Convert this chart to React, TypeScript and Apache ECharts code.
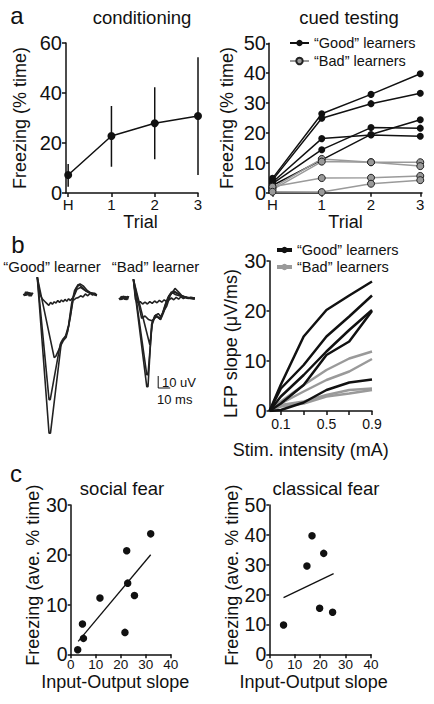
import React, { useEffect, useRef } from "react";
import * as echarts from "echarts";

const FONT = '"Liberation Sans", Arial, Helvetica, sans-serif';
const INK = "#111";
const GREY = "#9a9a9a";

// ---- panel a: conditioning ----
const trialX = [0, 1, 2, 3];
const trialLabels = ["H", "1", "2", "3"];
const condMean = [7.2, 22.8, 27.9, 30.8];
const condLow = [2.5, 10.5, 13.5, 7.2];
const condHigh = [11.6, 34.8, 42.3, 54.3];

// ---- panel a: cued testing ----
const goodCued = [
  [4.8, 26.4, 32.9, 39.8],
  [4.2, 24.9, 29.8, 33.3],
  [3.5, 18.1, 19.3, 18.9],
  [3.0, 14.4, 21.8, 21.6],
  [2.4, 11.0, 19.5, 24.4],
];
const badCued = [
  [1.6, 11.3, 10.2, 10.2],
  [1.0, 10.4, 10.2, 8.9],
  [2.0, 4.9, 5.0, 5.6],
  [0.3, 0.2, 3.0, 4.2],
];

// ---- panel b: example traces (ms, uV) ----
const goodPre = [[3.5, 0.5], [4.5, -1], [5.5, 1.5], [6.5, -0.5], [7.5, 1], [8.5, -1.5], [9.5, 0.5], [10, -0.5]];
const goodTraces = [
  [[14.4, 14], [16.5, 0], [18.5, -4], [20.5, -6], [22.5, -8], [24, -9.5], [25.5, -7], [27, -8.5], [28.5, -6.5], [30, -7.5], [31.5, -5.5], [33, -7], [34.5, -5], [36, -6.5], [37.5, -4.5], [39, -6], [40.5, -4], [42, -5.5], [43.5, -3.5], [45, -5], [46.5, -3.5], [48.5, -3], [50.5, -1.5], [52.5, -2.5], [54.5, 0], [56.5, -1.5], [58.5, 0.5], [60.5, -1], [62.5, 0.5], [64, -1]],
  [[14.4, 14], [28.5, -53], [29.8, -52], [33, -45], [36, -39], [38.5, -36], [40.5, -27], [42.5, -14], [44.5, -2], [47, 5], [50, 8.5], [53, 6.5], [56, 3], [59, 1], [62, 0.5], [64, -1]],
  [[14.4, 14], [24.2, -88], [25.2, -88], [33.5, -42], [35.5, -38], [38, -35], [40.5, -26], [43, -8], [45.5, 3], [48.5, 8], [51.5, 6], [55, 2.5], [58.5, 1], [62, -0.5], [64, -1]],
  [[14.4, 14], [24.2, -116], [25.4, -116], [34.5, -40], [37, -37], [39.5, -32], [42, -19], [44.5, -3], [47.5, 4], [50.5, 5.5], [54, 3], [57.5, 1], [61, 0], [64, -1.5]],
];
const badPre = [[4, 0.5], [5, -1], [6, 1], [7, -0.5], [8, 1], [9, -1], [10, 0.5], [11.5, 0]];
const badTraces = [
  [[15.3, 15.8], [17, -1], [19, -4], [21, -3], [23, -5], [25, -3.5], [27, -5], [29, -3], [31, -4.5], [33, -2.5], [35, -4], [37, -2], [39, -3.5], [41, -1.5], [43, -3], [45, -1.5], [47, 0], [49, -1.5], [51, 0.5], [53, -1], [55, 1], [57, -0.5], [59, 0.5], [61, -0.5], [63, 0.5], [66.5, 0]],
  [[15.3, 15.8], [22.2, -17], [25, -15], [28, -18], [30.6, -19], [34.7, -15.5], [37.5, -17.5], [40, -12], [43, -7], [46, 2], [50, 8], [53, 5], [55.6, 2], [60, 0], [66.5, -1]],
  [[15.3, 15.8], [29, -39], [31, -22], [33.5, -15], [36, -16], [38, -18], [40.5, -12], [43, -4], [46, 3], [49, 6], [52, 4], [55, 2], [58, 1], [62, 0], [66.5, -0.5]],
  [[15.3, 15.8], [26.5, -64], [27.5, -64], [31, -20], [34, -14], [37, -17], [39.5, -13], [42, -5], [45, 2], [48.5, 5], [51.5, 4], [54.5, 2], [58, 0.5], [62, 0], [66.5, 0]],
  [[15.3, 15.8], [26.5, -74], [27.5, -74], [30.5, -22], [33, -15], [36, -13], [38.5, -16], [41, -9], [44, 0], [47, 5], [50, 3], [53, 2], [56, 1], [60, 0.5], [66.5, 0]],
];
const scaleBar = [[36, -65], [36, -75], [46, -75]];

// ---- panel b: input-output curves ----
const stimX = [0, 0.1, 0.3, 0.5, 0.7, 0.9];
const goodIO = [
  [0, 5.3, 14.9, 20.2, 23.1, 25.9],
  [0, 4.5, 9.2, 14.9, 18.9, 23.1],
  [0, 2.9, 7.2, 11.9, 16.2, 20.2],
  [0, 1.5, 5.2, 11.2, 13.9, 20.0],
  [0, 0.2, 1.7, 4.2, 5.7, 6.3],
];
const badIO = [
  [0, 1.9, 5.2, 8.2, 10.5, 11.9],
  [0, 1.5, 3.9, 6.2, 7.9, 10.4],
  [0, 1.2, 1.9, 3.2, 4.2, 4.5],
  [0, 0.9, 1.5, 2.9, 3.5, 4.2],
];

// ---- panel c ----
const socialX = [2.8, 4.7, 5.1, 11.7, 21.7, 22.4, 22.8, 25.5, 32];
const socialY = [0.9, 6.1, 3.2, 11.3, 4.4, 20.8, 14.3, 11.8, 24.2];
const socialFit = [[3, 2.6], [32, 20]];
const classicalX = [5.6, 14.8, 16.8, 21.4, 19.8, 24.9];
const classicalY = [9.8, 29.6, 39.7, 33.8, 15.4, 14.1];
const classicalFit = [[5.6, 19], [25.3, 27]];

const LABELS: Record<string, string> = {
  goodA: "\u201CGood\u201D learners",
  badA: "\u201CBad\u201D learners",
  goodB: "\u201CGood\u201D learners",
  badB: "\u201CBad\u201D learners",
};

function axis(gridIndex: number, o: any) {
  return {
    gridIndex,
    type: "value",
    splitLine: { show: false },
    axisLine: { show: true, onZero: false, lineStyle: { color: INK, width: 1.5 } },
    axisTick: { show: true, length: 4, lineStyle: { color: INK, width: 1.5 }, ...(o.tick || {}) },
    axisLabel: { color: INK, fontFamily: FONT, fontSize: 20, margin: 4, ...(o.label || {}) },
    nameLocation: "middle",
    nameTextStyle: { color: INK, fontFamily: FONT, fontSize: 18, ...(o.nameStyle || {}) },
    ...o.rest,
  };
}

function hidden(gridIndex: number, min: number, max: number) {
  return { gridIndex, type: "value", show: false, min, max, splitLine: { show: false } };
}

function pairs(xs: number[], ys: number[]) {
  return xs.map((x, i) => [x, ys[i]]);
}

function txt(text: string, x: number, y: number, size: number, align = "center") {
  return {
    type: "text",
    x,
    y,
    style: { text, fill: INK, fontSize: size, fontFamily: FONT, align, verticalAlign: "middle" },
  };
}

export default function App() {
  const ref = useRef<HTMLDivElement>(null);
  useEffect(() => {
    if (!ref.current) return;
    const chart = echarts.init(ref.current, null, { renderer: "svg" });
    const trialFmt = (v: number) => trialLabels[trialX.indexOf(Math.round(v))] ?? "";

    const series: any[] = [];
    // a-left
    series.push({
      type: "custom",
      xAxisIndex: 0,
      yAxisIndex: 0,
      data: trialX.map((x, i) => [x, condLow[i], condHigh[i]]),
      encode: { x: 0, y: [1, 2] },
      renderItem: (_p: any, api: any) => {
        const x = api.value(0);
        const lo = api.coord([x, api.value(1)]);
        const hi = api.coord([x, api.value(2)]);
        return { type: "line", shape: { x1: lo[0], y1: lo[1], x2: hi[0], y2: hi[1] }, style: { stroke: INK, lineWidth: 1.5 } };
      },
    });
    series.push({
      type: "line",
      xAxisIndex: 0,
      yAxisIndex: 0,
      data: pairs(trialX, condMean),
      symbol: "circle",
      symbolSize: 8,
      lineStyle: { color: INK, width: 1.5 },
      itemStyle: { color: INK },
    });
    // a-right
    goodCued.forEach((row) =>
      series.push({
        name: "goodA",
        type: "line",
        xAxisIndex: 1,
        yAxisIndex: 1,
        data: pairs(trialX, row),
        symbol: "circle",
        symbolSize: 7,
        lineStyle: { color: INK, width: 1.5 },
        itemStyle: { color: INK },
        z: 2,
      })
    );
    badCued.forEach((row) =>
      series.push({
        name: "badA",
        type: "line",
        xAxisIndex: 1,
        yAxisIndex: 1,
        data: pairs(trialX, row),
        symbol: "circle",
        symbolSize: 7,
        lineStyle: { color: GREY, width: 1.5 },
        itemStyle: { color: "#999", borderColor: "#222", borderWidth: 1 },
        z: 3,
      })
    );
    // b traces
    const traceStyle = (w: number) => ({ color: "#222", width: w });
    series.push({ type: "line", xAxisIndex: 2, yAxisIndex: 2, data: goodPre, symbol: "none", lineStyle: traceStyle(3.5) });
    goodTraces.forEach((t) =>
      series.push({ type: "line", xAxisIndex: 2, yAxisIndex: 2, data: t, symbol: "none", lineStyle: traceStyle(1.6) })
    );
    series.push({ type: "line", xAxisIndex: 3, yAxisIndex: 3, data: badPre, symbol: "none", lineStyle: traceStyle(3.5) });
    badTraces.forEach((t) =>
      series.push({ type: "line", xAxisIndex: 3, yAxisIndex: 3, data: t, symbol: "none", lineStyle: traceStyle(1.6) })
    );
    series.push({ type: "line", xAxisIndex: 3, yAxisIndex: 3, data: scaleBar, symbol: "none", lineStyle: { color: INK, width: 1 } });
    // b-right
    goodIO.forEach((row) =>
      series.push({
        name: "goodB",
        type: "line",
        xAxisIndex: 4,
        yAxisIndex: 4,
        data: pairs(stimX, row),
        symbol: "none",
        lineStyle: { color: INK, width: 2.5 },
        itemStyle: { color: INK },
        z: 3,
      })
    );
    badIO.forEach((row) =>
      series.push({
        name: "badB",
        type: "line",
        xAxisIndex: 4,
        yAxisIndex: 4,
        data: pairs(stimX, row),
        symbol: "none",
        lineStyle: { color: GREY, width: 2.5 },
        itemStyle: { color: GREY },
        z: 2,
      })
    );
    // c
    series.push({ type: "scatter", xAxisIndex: 5, yAxisIndex: 5, data: pairs(socialX, socialY), symbolSize: 7.5, itemStyle: { color: INK, opacity: 1 } });
    series.push({ type: "line", xAxisIndex: 5, yAxisIndex: 5, data: socialFit, symbol: "none", lineStyle: { color: INK, width: 1.3 } });
    series.push({ type: "scatter", xAxisIndex: 6, yAxisIndex: 6, data: pairs(classicalX, classicalY), symbolSize: 7.5, itemStyle: { color: INK, opacity: 1 } });
    series.push({ type: "line", xAxisIndex: 6, yAxisIndex: 6, data: classicalFit, symbol: "none", lineStyle: { color: INK, width: 1.3 } });

    const legendBase = {
      orient: "vertical",
      selectedMode: false,
      formatter: (n: string) => LABELS[n] ?? n,
      textStyle: { color: INK, fontFamily: FONT, fontSize: 14.5, lineHeight: 16 },
    };

    const option: any = {
      animation: false,
      backgroundColor: "#fff",
      textStyle: { fontFamily: FONT },
      grid: [
        { left: 66, top: 43, width: 132, height: 150, outerBoundsMode: "none" },
        { left: 269, top: 43.3, width: 153, height: 149.4, outerBoundsMode: "none" },
        { left: 20, top: 276, width: 84, height: 162, outerBoundsMode: "none" },
        { left: 115, top: 280, width: 84, height: 114, outerBoundsMode: "none" },
        { left: 269.5, top: 261, width: 102.5, height: 150, outerBoundsMode: "none" },
        { left: 70.7, top: 505, width: 100, height: 149.3, outerBoundsMode: "none" },
        { left: 269.3, top: 505, width: 101.7, height: 149.3, outerBoundsMode: "none" },
      ],
      xAxis: [
        axis(0, {
          tick: { customValues: trialX },
          label: { customValues: trialX, formatter: trialFmt, fontSize: 15, margin: 4 },
          nameStyle: { padding: [0, 0, 0, 17] },
          rest: { min: -0.05, max: 3, name: "Trial", nameGap: 9 },
        }),
        axis(1, {
          tick: { customValues: trialX },
          label: { customValues: trialX, formatter: trialFmt, fontSize: 15, margin: 4 },
          rest: { min: -0.071, max: 3.035, name: "Trial", nameGap: 11 },
        }),
        hidden(2, 0, 70),
        hidden(3, 0, 70),
        axis(4, {
          tick: { customValues: [0.1, 0.3, 0.5, 0.7, 0.9] },
          label: { customValues: [0.1, 0.5, 0.9], fontSize: 14, margin: 6 },
          nameStyle: { padding: [0, 20, 0, 0] },
          rest: { min: 0, max: 0.9, name: "Stim. intensity (mA)", nameGap: 30 },
        }),
        axis(5, {
          label: { fontSize: 13.5, margin: 3 },
          nameStyle: { padding: [0, 11, 0, 0] },
          rest: { min: 0, max: 40, interval: 10, name: "Input-Output slope", nameGap: 19 },
        }),
        axis(6, {
          label: { fontSize: 13.5, margin: 3 },
          nameStyle: { padding: [0, 13, 0, 0] },
          rest: { min: 0, max: 40, interval: 10, name: "Input-Output slope", nameGap: 19 },
        }),
      ],
      yAxis: [
        axis(0, { rest: { min: 0, max: 60, interval: 20, name: "Freezing (% time)", nameGap: 37 } }),
        axis(1, { label: { margin: 3 }, tick: { length: 3 }, rest: { min: 0, max: 50, interval: 10, name: "Freezing (% time)", nameGap: 33 } }),
        hidden(2, -120, 15),
        hidden(3, -80, 15),
        axis(4, {
          label: { margin: 3 },
          tick: { length: 3 },
          nameStyle: { padding: [0, 15, 0, 0] },
          rest: { min: 0, max: 30, interval: 10, name: "LFP slope (\u03BCV/ms)", nameGap: 30 },
        }),
        axis(5, {
          label: { margin: 3, fontSize: 19.5 },
          tick: { length: 3 },
          nameStyle: { padding: [0, 0, 0, 9] },
          rest: { min: 0, max: 30, interval: 10, name: "Freezing (ave. % time)", nameGap: 28 },
        }),
        axis(6, {
          label: { margin: 3, fontSize: 19.5 },
          tick: { length: 3 },
          nameStyle: { padding: [0, 0, 0, 9] },
          rest: { min: 0, max: 50, interval: 10, name: "Freezing (ave. % time)", nameGap: 28 },
        }),
      ],
      legend: [
        { ...legendBase, data: ["goodA", "badA"], left: 284, top: 30, itemWidth: 19, itemHeight: 8, itemGap: 2 },
        {
          ...legendBase,
          data: ["goodB", "badB"],
          left: 270,
          top: 237,
          itemWidth: 15,
          itemHeight: 8,
          itemGap: 1,
          lineStyle: { width: 4 },
        },
      ],
      graphic: [
        txt("a", 17, 15, 24),
        txt("conditioning", 142, 17, 18.5),
        txt("cued testing", 349, 17, 18.5),
        txt("b", 18, 244, 24),
        txt("\u201CGood\u201D learner", 52, 266, 15),
        txt("\u201CBad\u201D learner", 155.5, 266, 15),
        txt("10 uV", 162, 382, 13, "left"),
        txt("10 ms", 157, 399, 13, "left"),
        txt("c", 16, 473, 24),
        txt("social fear", 122, 488, 18.5),
        txt("classical fear", 326, 488, 18.5),
      ],
      series,
    };
    chart.setOption(option);
    return () => chart.dispose();
  }, []);

  return (
    <div
      ref={ref}
      style={{ position: "fixed", left: 0, top: 0, width: 434, height: 704, background: "#fff" }}
    />
  );
}
